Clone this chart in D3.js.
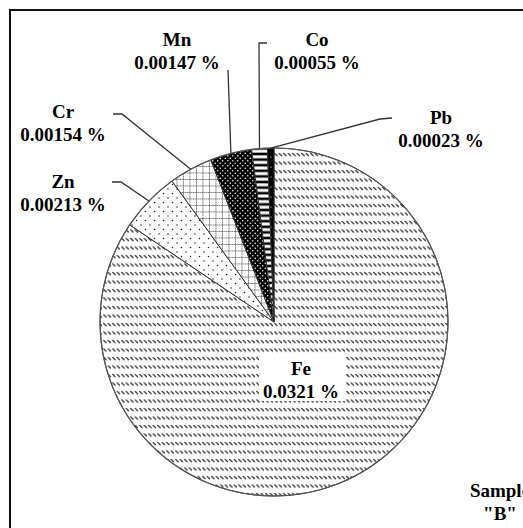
<!DOCTYPE html>
<html>
<head>
<meta charset="utf-8">
<script src="https://cdn.jsdelivr.net/npm/d3@7/dist/d3.min.js"></script>
<style>
  html, body { margin: 0; padding: 0; background: #fff; }
  svg { display: block; }
  text { font-family: "Liberation Serif", "Times New Roman", serif; font-weight: bold; fill: #000; }
</style>
</head>
<body>
<svg id="chart" width="523" height="528"></svg>
<script>
// Element content of sample "B" (percent)
const elements = ["Fe", "Zn", "Cr", "Mn", "Co", "Pb"];
const percents = [0.0321, 0.00213, 0.00154, 0.00147, 0.00055, 0.00023];
const valueLabels = ["0.0321 %", "0.00213 %", "0.00154 %", "0.00147 %", "0.00055 %", "0.00023 %"];
const sampleTitle = ["Sample", "\"B\""];

const W = 523, H = 528;
const cx = 274, cy = 322, R = 174;

const svg = d3.select("#chart");
const defs = svg.append("defs");

// Fill patterns, one per element
function pattern(id, w, h, draw) {
  const p = defs.append("pattern")
    .attr("id", id).attr("patternUnits", "userSpaceOnUse")
    .attr("width", w).attr("height", h);
  draw(p);
}
pattern("pFe", 4.5, 8.5, p => {
  p.append("rect").attr("width", 4.5).attr("height", 8.5).attr("fill", "#fff");
  p.append("path").attr("d", "M0.4,1 L3.4,4").attr("stroke", "#111").attr("stroke-width", 1.1);
});
pattern("pZn", 9, 9, p => {
  p.append("rect").attr("width", 9).attr("height", 9).attr("fill", "#fff");
  p.append("circle").attr("cx", 2).attr("cy", 2).attr("r", 0.75).attr("fill", "#222");
  p.append("circle").attr("cx", 6.5).attr("cy", 6.5).attr("r", 0.75).attr("fill", "#222");
});
pattern("pCr", 6.5, 6.5, p => {
  p.append("rect").attr("width", 6.5).attr("height", 6.5).attr("fill", "#fff");
  [0.5, 2.2, 3.8, 5.4].forEach(t => {
    p.append("rect").attr("x", t).attr("y", 0).attr("width", 0.9).attr("height", 0.9).attr("fill", "#444");
    p.append("rect").attr("x", 0).attr("y", t).attr("width", 0.9).attr("height", 0.9).attr("fill", "#444");
  });
});
pattern("pMn", 5, 5, p => {
  p.append("rect").attr("width", 5).attr("height", 5).attr("fill", "#000");
  p.append("circle").attr("cx", 1.25).attr("cy", 1.25).attr("r", 0.75).attr("fill", "#fff");
  p.append("circle").attr("cx", 3.75).attr("cy", 3.75).attr("r", 0.75).attr("fill", "#fff");
});
pattern("pCo", 10, 5.6, p => {
  p.append("rect").attr("width", 10).attr("height", 5.6).attr("fill", "#000");
  p.append("rect").attr("y", 1.3).attr("width", 10).attr("height", 3).attr("fill", "#fff");
});
pattern("pPb", 6, 10, p => {
  p.append("rect").attr("width", 6).attr("height", 10).attr("fill", "#000");
  p.append("circle").attr("cx", 3).attr("cy", 5).attr("r", 0.6).attr("fill", "#fff");
});
const fills = { Fe: "url(#pFe)", Zn: "url(#pZn)", Cr: "url(#pCr)", Mn: "url(#pMn)", Co: "url(#pCo)", Pb: "url(#pPb)" };

// Frame around the chart area
svg.append("rect")
  .attr("x", 10).attr("y", 10).attr("width", W + 40).attr("height", H + 40)
  .attr("fill", "none").attr("stroke", "#111").attr("stroke-width", 2);

const data = elements.map((e, i) => ({ name: e, value: percents[i], label: valueLabels[i] }));
const pie = d3.pie().sort(null).value(d => d.value).startAngle(0).endAngle(2 * Math.PI);
const arcs = pie(data);
const arc = d3.arc().innerRadius(0).outerRadius(R);
const rim = d3.arc().innerRadius(R).outerRadius(R);

const g = svg.append("g").attr("transform", `translate(${cx},${cy})`);
g.selectAll("path.slice").data(arcs).join("path")
  .attr("class", "slice")
  .attr("d", arc)
  .attr("fill", d => fills[d.data.name])
  .attr("stroke", "#333").attr("stroke-width", 1)
  .attr("stroke-linejoin", "round");
g.append("circle").attr("r", R).attr("fill", "none").attr("stroke", "#555").attr("stroke-width", 1.2);

// Callout layout: label centre x, first baseline, leader polyline start points
const callouts = {
  Zn: { x: 63, y: 188, lead: [[112, 182], [121, 182]] },
  Cr: { x: 63, y: 118, lead: [[113, 114], [122, 114]] },
  Mn: { x: 177, y: 46, lead: [[228, 70]] },
  Co: { x: 317, y: 46, lead: [[267, 43], [259, 43]] },
  Pb: { x: 441, y: 124, lead: [[392, 118], [380, 119]] }
};
const line = d3.line();
arcs.forEach(a => {
  const c = callouts[a.data.name];
  if (!c) return;
  const e = rim.centroid(a);
  const pts = c.lead.concat([[e[0] + cx, e[1] + cy]]);
  svg.append("path").attr("d", line(pts))
    .attr("fill", "none").attr("stroke", "#333").attr("stroke-width", 1.3);
});

function twoLine(x, y, a, b) {
  const t = svg.append("text").attr("text-anchor", "middle").attr("font-size", 19);
  t.append("tspan").attr("x", x).attr("y", y).text(a);
  t.append("tspan").attr("x", x).attr("y", y + 22.5).text(b);
  return t;
}
arcs.forEach(a => {
  const c = callouts[a.data.name];
  if (c) twoLine(c.x, c.y, a.data.name, a.data.label);
});

// Label inside the main slice on a white box
const fe = arcs[0];
const fx = 301, fy = 375;
svg.append("rect").attr("x", fx - 42).attr("y", fy - 19).attr("width", 86).attr("height", 45).attr("fill", "#fff");
twoLine(fx, fy, fe.data.name, fe.data.label);

// Sample title, running past the right edge of the page
twoLine(500, 497, sampleTitle[0], sampleTitle[1]);
</script>
</body>
</html>
